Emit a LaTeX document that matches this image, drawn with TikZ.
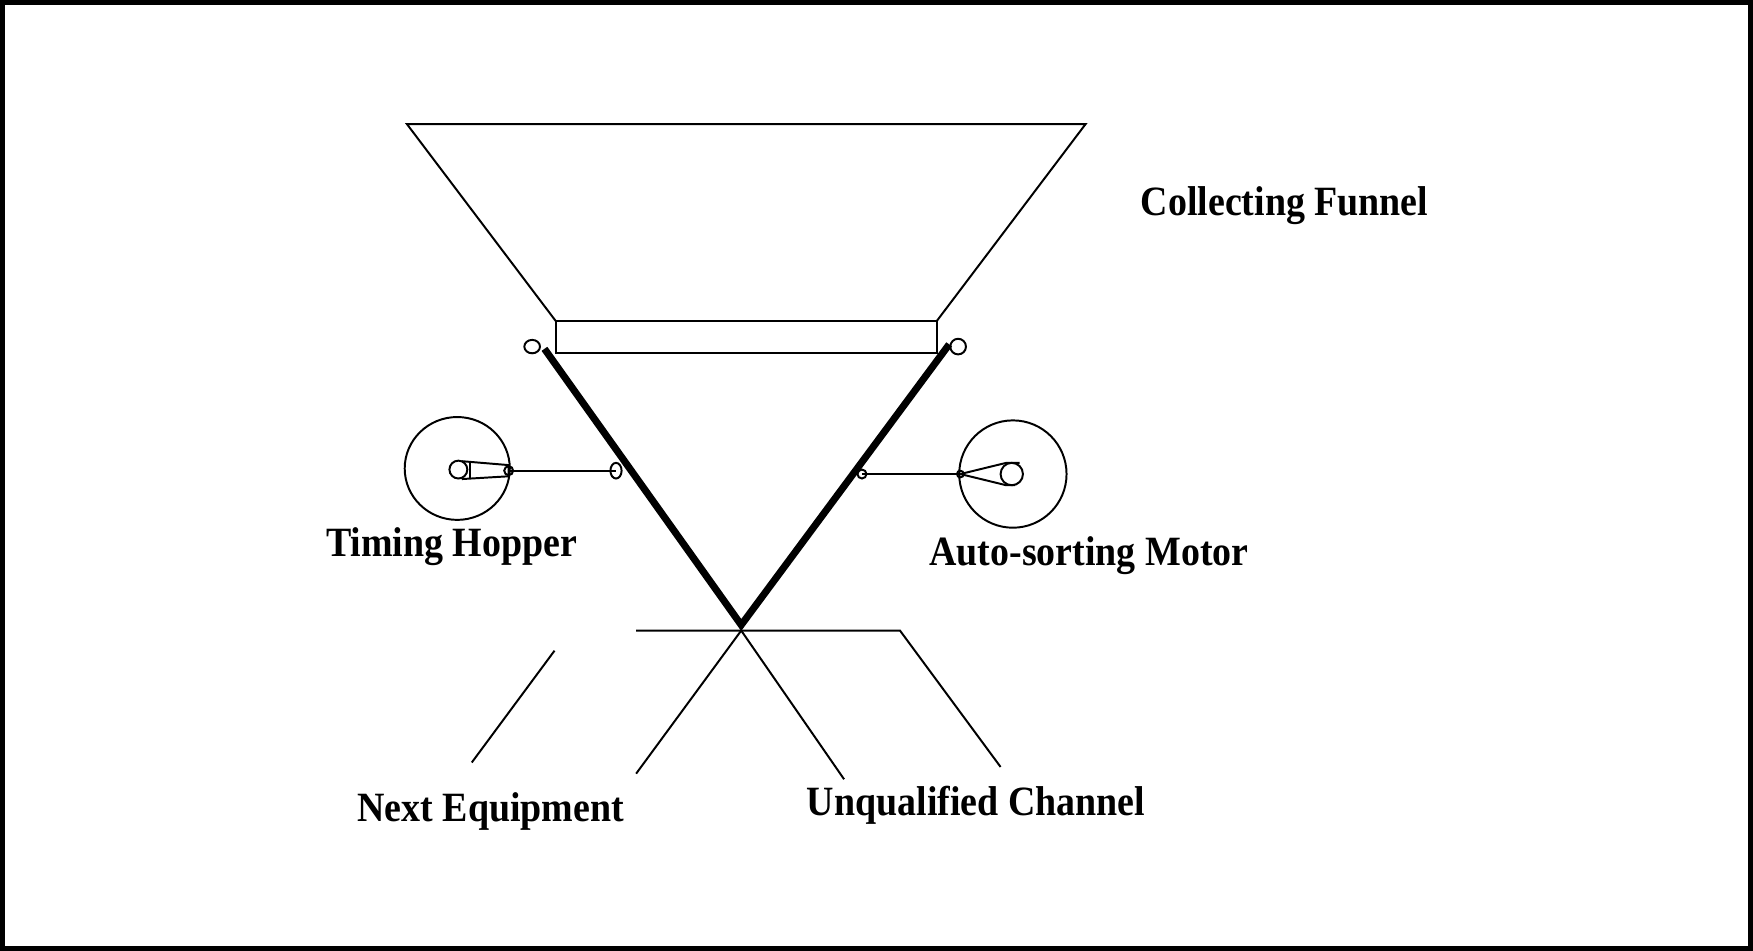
\documentclass[tikz,border=0pt]{standalone}
\usepackage{fontspec}
\setmainfont{Liberation Serif}[FakeStretch=0.91]
\usepackage{tikz}
\def\leftwheel{(409,419) ellipse (47 and 46)}
\def\rightwheel{(906,424) circle (48)}
\tikzset{
  part/.style={line width=0.5pt},
  flap/.style={line width=1.8pt},
  tag/.style={font=\bfseries\fontsize{10.6}{12}\selectfont, anchor=base, inner sep=0pt}
}

\begin{document}
\begin{tikzpicture}[x=0.01cm, y=-0.01cm]
  \useasboundingbox (0,0) rectangle (1568,850);
  \draw[line width=1.3pt] (2,2) rectangle (1566,848);
  % funnel and gate
  \draw[part] (497,287) -- (364,111) -- (971,111) -- (838,287);
  \draw[part] (497,287) rectangle (838,316);
  % sorting flaps
  \coordinate (tip) at (663,559);
  \coordinate (lend) at (487,312);
  \coordinate (rend) at (849,308);
  \draw[flap] (lend) -- (tip) -- (rend);
  \draw[part] (476,310) ellipse (7 and 6);
  \draw[part] (857,310) circle (7);
  % left drive
  \draw[part] \leftwheel;
  \coordinate (lhub) at (455,421);
  \coordinate (lpin) at (551,421);
  \draw[part] (413,412.5) -- (455,416) -- (455,426) -- (413,428.5);
  \draw[part] (420,413) -- (420,428);
  \draw[part] (410,420) circle (8);
  \draw[part] (lhub) circle (4);
  \draw[part] (lhub) -- (lpin);
  \draw[part] (lpin) ellipse (5 and 7);
  % right drive
  \draw[part] \rightwheel;
  \coordinate (rhub) at (859,424);
  \coordinate (rpin) at (771,424);
  \draw[part] (rhub) -- (900,414) -- (912,414);
  \draw[part] (rhub) -- (900,434) -- (908,434);
  \draw[part] (905,424) circle (10);
  \draw[part] (rhub) circle (3);
  \draw[part] (rhub) -- (rpin);
  \draw[part] (rpin) circle (4);
  % channels
  \coordinate (cross) at (663,564);
  \draw[part] (569,564) -- (805,564) -- (895,686);
  \draw[part] (569,692) -- (cross) -- (755,697);
  \draw[part] (496,582) -- (422,682);
  % labels
  \node[tag] (funnel) at (1149,193) {Collecting Funnel};
  \node[tag] (hopper) at (404,498) {Timing Hopper};
  \node[tag] (motor) at (974,506) {Auto-sorting Motor};
  \node[tag] (next) at (439,735) {Next Equipment};
  \node[tag] (unq) at (873,729) {Unqualified Channel};
\end{tikzpicture}
\end{document}
